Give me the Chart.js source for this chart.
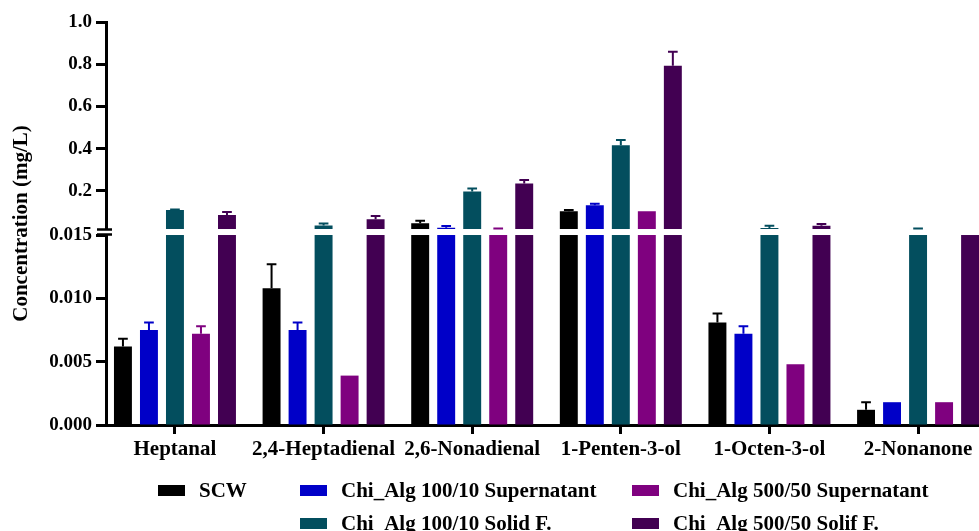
<!DOCTYPE html>
<html><head><meta charset="utf-8">
<script src="https://cdn.jsdelivr.net/npm/chart.js@4.4.1/dist/chart.umd.min.js"></script>
<style>html,body{margin:0;padding:0;background:#fff;overflow:hidden}canvas{display:block}</style>
</head><body>
<canvas id="c" width="979" height="531"></canvas>
<script>
// ---- data ----
const categories = ['Heptanal', '2,4-Heptadienal', '2,6-Nonadienal', '1-Penten-3-ol', '1-Octen-3-ol', '2-Nonanone'];
const seriesLabels = ['SCW', 'Chi_Alg 100/10 Supernatant', 'Chi_Alg 100/10 Solid F.', 'Chi_Alg 500/50 Supernatant', 'Chi_Alg 500/50 Solif F.'];
const scw         = [0.0062, 0.0108, 0.047, 0.104, 0.0081, 0.0012];
const scwErr      = [0.0006, 0.0019, 0.012, 0.006, 0.0007, 0.0006];
const sup100      = [0.0075, 0.0075, 0.026, 0.132, 0.0072, 0.0018];
const sup100Err   = [0.0006, 0.0006, 0.008, 0.008, 0.0006, 0];
const solid100    = [0.110, 0.037, 0.198, 0.416, 0.025, 0.020];
const solid100Err = [0.002, 0.009, 0.014, 0.025, 0.011, 0.003];
const sup500      = [0.0072, 0.0039, 0.020, 0.104, 0.0048, 0.0018];
const sup500Err   = [0.0006, 0, 0.003, 0, 0, 0];
const solif500    = [0.086, 0.066, 0.236, 0.793, 0.036, 0.015];
const solif500Err = [0.014, 0.016, 0.016, 0.066, 0.008, 0];
const yTickValues = [0, 0.005, 0.010, 0.015, 0.2, 0.4, 0.6, 0.8, 1.0];
const yTickLabels = ['0.000', '0.005', '0.010', '0.015', '0.2', '0.4', '0.6', '0.8', '1.0'];

// ---- broken y-axis transform (lower 0–0.015, upper 0.02–1.0) ----
const LOW_TOP = 0.015, UP_BOTTOM = 0.02;
const LOW_SPAN = 190, GAP = 6, UP_PER_UNIT = 211.25;
function brk(v) {
  if (v <= LOW_TOP) return v / LOW_TOP * LOW_SPAN;
  if (v < UP_BOTTOM) return LOW_SPAN + (v - LOW_TOP) / (UP_BOTTOM - LOW_TOP) * GAP;
  return LOW_SPAN + GAP + (v - UP_BOTTOM) * UP_PER_UNIT;
}
const Y_MAX = brk(1.0);

const colors = ['#000000', '#0000C8', '#034E5E', '#7F017F', '#420052'];
const values = [scw, sup100, solid100, sup500, solif500];
const errors = [scwErr, sup100Err, solid100Err, sup500Err, solif500Err];

const FONT = "'Liberation Serif', 'Times New Roman', serif";

const datasets = seriesLabels.map((lab, k) => ({
  label: lab,
  data: values[k].map((v, i) => ({ x: i, y: brk(v) })),
  backgroundColor: colors[k],
  borderWidth: 0,
  categoryPercentage: 0.875,
  barPercentage: 0.69,
  errs: errors[k],
  raw: values[k]
}));

const breakPlugin = {
  id: 'breakAndErrors',
  afterDatasetsDraw(chart) {
    const ctx = chart.ctx, ys = chart.scales.y, ca = chart.chartArea;
    const yLow = ys.getPixelForValue(LOW_SPAN);
    const yUp = ys.getPixelForValue(LOW_SPAN + GAP);
    ctx.save();
    ctx.fillStyle = '#fff';
    ctx.fillRect(ca.left + 2, yUp, ca.right - ca.left, yLow - yUp);
    // error bars
    chart.data.datasets.forEach((ds, k) => {
      const meta = chart.getDatasetMeta(k);
      meta.data.forEach((bar, i) => {
        const e = ds.errs[i];
        if (!e) return;
        const top = ys.getPixelForValue(brk(ds.raw[i] + e));
        ctx.strokeStyle = ds.backgroundColor;
        ctx.lineWidth = 2;
        ctx.beginPath();
        ctx.moveTo(bar.x, bar.y);
        ctx.lineTo(bar.x, top);
        ctx.moveTo(bar.x - bar.width * 0.27, top);
        ctx.lineTo(bar.x + bar.width * 0.27, top);
        ctx.stroke();
      });
    });
    ctx.restore();
  },
  afterDraw(chart) {
    const ctx = chart.ctx, ys = chart.scales.y, ca = chart.chartArea;
    const yLow = ys.getPixelForValue(LOW_SPAN);
    const yUp = ys.getPixelForValue(LOW_SPAN + GAP);
    const x = ca.left;
    ctx.save();
    ctx.fillStyle = '#fff';
    ctx.fillRect(x - 4, yUp + 1, 8, yLow - yUp - 2);
    ctx.strokeStyle = '#000';
    ctx.lineWidth = 2.5;
    ctx.beginPath();
    ctx.moveTo(x - 9, yUp + 0.5); ctx.lineTo(x + 6, yUp + 0.5);
    ctx.moveTo(x - 9, yLow - 0.5); ctx.lineTo(x + 6, yLow - 0.5);
    ctx.stroke();
    // legend (grid layout)
    const slots = [[158, 497], [300, 497], [300, 530], [632, 497], [632, 530]];
    ctx.font = "bold 21px " + FONT;
    ctx.textBaseline = 'alphabetic';
    ctx.textAlign = 'left';
    chart.data.datasets.forEach((ds, k) => {
      const [bx, by] = slots[k];
      ctx.fillStyle = ds.backgroundColor;
      ctx.fillRect(bx, by - 12, 27, 11);
      ctx.fillStyle = '#000';
      ctx.fillText(ds.label, bx + 41, by);
    });
    ctx.restore();
  }
};

new Chart(document.getElementById('c'), {
  type: 'bar',
  data: { datasets },
  options: {
    responsive: false,
    animation: false,
    devicePixelRatio: 1,
    layout: { padding: { top: 22, right: 0, bottom: 66, left: 0 } },
    plugins: { legend: { display: false }, tooltip: { enabled: false } },
    scales: {
      x: {
        type: 'linear',
        min: -0.464,
        max: 5.41,
        offset: false,
        afterFit: s => { s.height = 40; },
        afterBuildTicks: s => { s.ticks = categories.map((_, i) => ({ value: i })); },
        grid: { offset: false, drawOnChartArea: false, drawTicks: true, tickLength: 9, tickWidth: 3, tickColor: '#000' },
        border: { display: true, color: '#000', width: 3 },
        ticks: {
          autoSkip: false, maxRotation: 0, padding: 3, color: '#000',
          font: { family: FONT, size: 21, weight: 'bold' },
          callback: v => categories[Math.round(v)]
        }
      },
      y: {
        type: 'linear',
        min: 0,
        max: Y_MAX,
        afterFit: s => { s.width = 106; },
        afterBuildTicks: s => { s.ticks = yTickValues.map(v => ({ value: brk(v) })); },
        grid: { drawOnChartArea: false, drawTicks: true, tickLength: 10, tickWidth: 3, tickColor: '#000' },
        border: { display: true, color: '#000', width: 3 },
        ticks: {
          padding: 4, color: '#000',
          font: { family: FONT, size: 19, weight: 'bold' },
          callback: (v, i) => yTickLabels[i]
        },
        title: {
          display: true, text: 'Concentration (mg/L)', color: '#000',
          font: { family: FONT, size: 21, weight: 'bold' },
          padding: { top: 9, bottom: 0 }
        }
      }
    }
  },
  plugins: [breakPlugin]
});
</script>
</body></html>
